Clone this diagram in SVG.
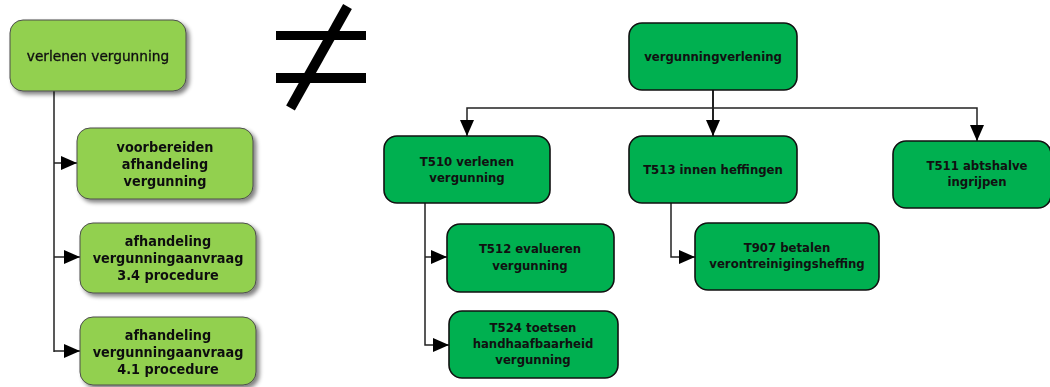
<svg xmlns="http://www.w3.org/2000/svg" width="1050" height="387" viewBox="0 0 1050 387">
<defs>
<filter id="sh" x="-10%" y="-10%" width="130%" height="140%">
<feGaussianBlur in="SourceAlpha" stdDeviation="2"/>
<feOffset dx="3" dy="3" result="b"/>
<feComponentTransfer><feFuncA type="linear" slope="0.5"/></feComponentTransfer>
<feMerge><feMergeNode/><feMergeNode in="SourceGraphic"/></feMerge>
</filter>
<marker id="ah" viewBox="0 0 16 14" refX="16" refY="7" markerWidth="16" markerHeight="14" markerUnits="userSpaceOnUse" orient="auto">
<path d="M0,0 L16,7 L0,14 Z" fill="#000"/>
</marker>
</defs>
<style>
.ln{fill:#92d050;stroke:#4d4d4d;stroke-width:1}
.dk{fill:#00b050;stroke:#111;stroke-width:1.6}
.t{font-family:"DejaVu Sans Condensed","DejaVu Sans","Liberation Sans",sans-serif;fill:#111;text-anchor:middle;font-weight:bold}
.tl{font-size:14.3px}
.tr{font-size:13px}
.c{fill:none;stroke:#222;stroke-width:1.5}
</style>
<rect width="1050" height="387" fill="#fff"/>
<g id="connectors">
<path class="c" d="M54,91 V352"/>
<path class="c" d="M54,163 H77" marker-end="url(#ah)"/>
<path class="c" d="M54,257 H80" marker-end="url(#ah)"/>
<path class="c" d="M54,351 H80" marker-end="url(#ah)"/>
<path class="c" d="M713,90 V136" marker-end="url(#ah)" style="stroke-width:2"/>
<path class="c" d="M713,108 H467 V136" marker-end="url(#ah)"/>
<path class="c" d="M713,108 H977 V141" marker-end="url(#ah)"/>
<path class="c" d="M425,203 V345 H449" marker-end="url(#ah)"/>
<path class="c" d="M425,257 H447" marker-end="url(#ah)"/>
<path class="c" d="M671,203 V257 H695" marker-end="url(#ah)"/>
</g>
<g id="neq" fill="#000">
<rect x="276" y="31" width="90" height="9"/>
<rect x="276" y="73" width="90" height="10"/>
<path d="M347.5,6.5 L290.5,108" stroke="#000" stroke-width="10" fill="none"/>
</g>
<g id="n1" filter="url(#sh)">
<rect class="ln" x="10" y="20" width="176" height="71" rx="13"/>
<text x="98" y="61" style="font-family:'DejaVu Sans','Liberation Sans',sans-serif;font-size:13.7px;fill:#111;stroke:#111;stroke-width:0.35;text-anchor:middle">verlenen vergunning</text>
</g>
<g id="n2" filter="url(#sh)">
<rect class="ln" x="77" y="128" width="176" height="71" rx="13"/>
<text class="t tl" x="165" y="152">voorbereiden</text>
<text class="t tl" x="165" y="169">afhandeling</text>
<text class="t tl" x="165" y="186">vergunning</text>
</g>
<g id="n3" filter="url(#sh)">
<rect class="ln" x="80" y="223" width="176" height="70" rx="13"/>
<text class="t tl" x="168" y="246">afhandeling</text>
<text class="t tl" x="168" y="263">vergunningaanvraag</text>
<text class="t tl" x="168" y="280">3.4 procedure</text>
</g>
<g id="n4" filter="url(#sh)">
<rect class="ln" x="80" y="317" width="176" height="68" rx="13"/>
<text class="t tl" x="168" y="340">afhandeling</text>
<text class="t tl" x="168" y="357">vergunningaanvraag</text>
<text class="t tl" x="168" y="374">4.1 procedure</text>
</g>
<g id="r0">
<rect class="dk" x="629" y="23" width="168" height="67" rx="13"/>
<text class="t tr" x="713" y="61">vergunningverlening</text>
</g>
<g id="t510">
<rect class="dk" x="384" y="136" width="166" height="67" rx="13"/>
<text class="t tr" x="467" y="166">T510 verlenen</text>
<text class="t tr" x="467" y="182">vergunning</text>
</g>
<g id="t513">
<rect class="dk" x="629" y="136" width="168" height="67" rx="13"/>
<text class="t tr" x="713" y="174">T513 innen heffingen</text>
</g>
<g id="t511">
<rect class="dk" x="893" y="141" width="158" height="67" rx="13"/>
<text class="t tr" x="977" y="170">T511 abtshalve</text>
<text class="t tr" x="977" y="186">ingrijpen</text>
</g>
<g id="t512">
<rect class="dk" x="447" y="224" width="167" height="68" rx="13"/>
<text class="t tr" x="530" y="253">T512 evalueren</text>
<text class="t tr" x="530" y="270">vergunning</text>
</g>
<g id="t524">
<rect class="dk" x="449" y="311" width="169" height="67" rx="13"/>
<text class="t tr" x="533" y="332">T524 toetsen</text>
<text class="t tr" x="533" y="348">handhaafbaarheid</text>
<text class="t tr" x="533" y="364">vergunning</text>
</g>
<g id="t907">
<rect class="dk" x="695" y="223" width="184" height="67" rx="13"/>
<text class="t tr" x="787" y="252">T907 betalen</text>
<text class="t tr" x="787" y="268">verontreinigingsheffing</text>
</g>
</svg>
